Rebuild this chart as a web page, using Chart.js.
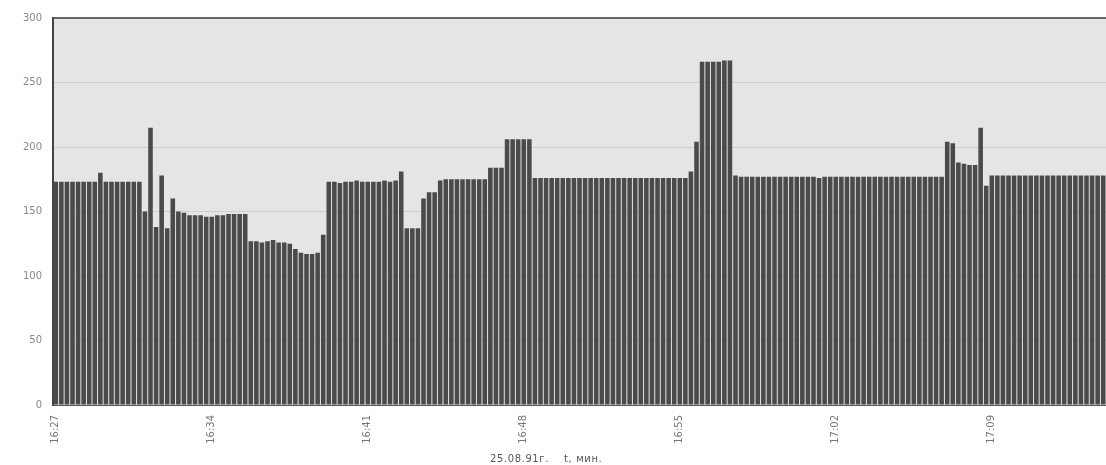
<!DOCTYPE html>
<html>
<head>
<meta charset="utf-8">
<script src="https://cdn.jsdelivr.net/npm/chart.js@4"></script>
<style>
  body { margin: 0; background: #fff; }
  #wrap { position: relative; width: 1106px; height: 465px; }
  #caption {
    position: absolute; left: 490px; top: 453px;
    font: 10px "DejaVu Sans", sans-serif; color: #555;
    white-space: pre; letter-spacing: 0.6px;
  }
</style>
</head>
<body>
<div id="wrap">
  <canvas id="chart" width="1106" height="465"></canvas>
  <div id="caption">25.08.91г.    t, мин.</div>
</div>
<script>
// one bar per 15 s, 28 bars between labelled minutes
const tickLabels = ["16:27", "16:34", "16:41", "16:48", "16:55", "17:02", "17:09"];
const barsPerTick = 28;

const values = [
  173, 173, 173, 173, 173, 173, 173, 173, 180, 173,
  173, 173, 173, 173, 173, 173, 150, 215, 138, 178,
  137, 160, 150, 149, 147, 147, 147, 146, 146, 147,
  147, 148, 148, 148, 148, 127, 127, 126, 127, 128,
  126, 126, 125, 121, 118, 117, 117, 118, 132, 173,
  173, 172, 173, 173, 174, 173, 173, 173, 173, 174,
  173, 174, 181, 137, 137, 137, 160, 165, 165, 174,
  175, 175, 175, 175, 175, 175, 175, 175, 184, 184,
  184, 206, 206, 206, 206, 206, 176, 176, 176, 176,
  176, 176, 176, 176, 176, 176, 176, 176, 176, 176,
  176, 176, 176, 176, 176, 176, 176, 176, 176, 176,
  176, 176, 176, 176, 181, 204, 266, 266, 266, 266,
  267, 267, 178, 177, 177, 177, 177, 177, 177, 177,
  177, 177, 177, 177, 177, 177, 177, 176, 177, 177,
  177, 177, 177, 177, 177, 177, 177, 177, 177, 177,
  177, 177, 177, 177, 177, 177, 177, 177, 177, 177,
  204, 203, 188, 187, 186, 186, 215, 170, 178, 178,
  178, 178, 178, 178, 178, 178, 178, 178, 178, 178,
  178, 178, 178, 178, 178, 178, 178, 178, 178
];

const categories = values.map((v, i) => (i % barsPerTick === 0 ? tickLabels[i / barsPerTick] : ""));

const plotBg = {
  id: "plotBg",
  beforeDraw(chart) {
    const { ctx, chartArea: a } = chart;
    ctx.save();
    ctx.fillStyle = "#e5e5e5";
    ctx.fillRect(a.left, a.top, a.right - a.left, a.bottom - a.top);
    ctx.restore();
  }
};

new Chart(document.getElementById("chart"), {
  type: "bar",
  data: {
    labels: categories,
    datasets: [
      {
        data: values,
        backgroundColor: "#4a4a4a",
        barPercentage: 0.82,
        categoryPercentage: 1
      }
    ]
  },
  options: {
    responsive: false,
    animation: false,
    layout: { padding: { top: 18, right: 0, left: 0, bottom: 0 } },
    plugins: { legend: { display: false }, tooltip: { enabled: false } },
    scales: {
      x: {
        grid: { display: false },
        border: { color: "#555", width: 1 },
        ticks: {
          autoSkip: false,
          minRotation: 90,
          maxRotation: 90,
          padding: 2,
          color: "#777",
          font: { family: "DejaVu Sans", size: 10 }
        },
        afterFit: (scale) => {
          scale.height = 60;
          scale.paddingLeft = 0;
          scale.paddingRight = 0;
        }
      },
      y: {
        min: 0,
        max: 300,
        ticks: {
          stepSize: 50,
          padding: 11,
          color: "#888",
          font: { family: "DejaVu Sans", size: 10 }
        },
        grid: {
          drawTicks: false,
          color: (ctx) => (ctx.tick && ctx.tick.value === 300 ? "#666" : "#cfcfcf"),
          lineWidth: (ctx) => (ctx.tick && ctx.tick.value === 300 ? 2 : 1)
        },
        border: { color: "#444", width: 2 },
        afterFit: (scale) => { scale.width = 53; }
      }
    }
  },
  plugins: [plotBg]
});
</script>
</body>
</html>
